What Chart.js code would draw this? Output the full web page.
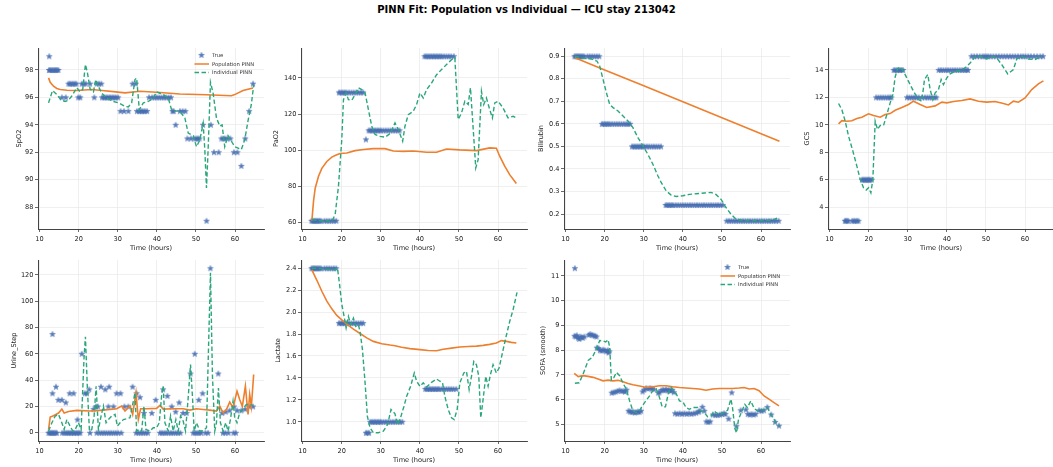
<!DOCTYPE html>
<html><head><meta charset="utf-8">
<script src="https://cdn.jsdelivr.net/npm/chart.js@4.4.1/dist/chart.umd.min.js"></script>
<style>
html,body{margin:0;padding:0;background:#fff;width:1053px;height:467px;overflow:hidden;position:relative;font-family:"DejaVu Sans",sans-serif;}
#title{position:absolute;left:0;width:1053px;top:4px;text-align:center;font-weight:bold;font-size:10px;line-height:12px;color:#000;white-space:nowrap;}
canvas{position:absolute;}
</style></head><body>
<div id="title">PINN Fit: Population vs Individual — ICU stay 213042</div>
<script>
// ---------------- DATA ----------------
const xTicks = [10, 20, 30, 40, 50, 60];

// SpO2
const spo2TrueT = [12.47,12.4,12.7,13.0,13.3,13.6,13.9,14.2,14.5,14.8, 15.7,16.7, 17.4,17.8,18.2,18.6,19.0,19.4, 19.9,20.4, 20.8,21.3,21.8, 22.9, 24.0, 24.6,25.2,25.8, 26.0,26.4,26.8,27.2,27.6,28.0,28.4,28.8,29.2,29.6,30.1, 30.7,31.6,32.7, 33.8,34.6, 34.9,35.4,35.8,36.2,36.6,37.0,37.5, 38.0,38.8,39.4,40.0,40.6,41.2,41.8,42.4,43.0,43.6, 44.0,44.3, 44.8, 45.9,46.6,47.3, 47.8,48.7,49.6,50.1,50.5,50.9, 51.8, 52.7, 53.8, 54.6,55.8, 56.5,57.0,57.4,58.0,58.8, 59.7,60.6, 61.6, 62.6, 63.6, 64.6];
const spo2TrueV = [99,98,98,98,98,98,98,98,98,98, 96,96, 97,97,97,97,97,97, 96,96, 97,97,97, 97, 96, 97,97,97, 96,96,96,96,96,96,96,96,96,96,96, 95,95,95, 97,97, 95,95,95,95,95,95,95, 96,96,96,96,96,96,96,96,96,96, 95,95, 94, 95,95,95, 93,93,93,93,93,93, 94, 87, 94, 92,92, 93,93,93,93,93, 92,92, 91, 93, 95, 97];
const spo2PopT = [12.3,12.72,13.57,14.42,15.27,17.0,19.52,23.35,26.0,28.88,31.85,35.68,39.93,45.88,52.69,59.06,59.91,62.04,64.59];
const spo2PopV = [97.42,97.1,96.81,96.65,96.57,96.52,96.5,96.57,96.5,96.42,96.33,96.45,96.37,96.24,96.19,96.12,96.2,96.5,96.69];
const spo2IndT = [12.30,13.32,14.42,15.53,16.55,17.40,18.25,19.52,20.37,21.05,21.73,22.24,22.93,23.78,24.37,25.05,25.90,27.18,28.88,30.15,31.85,32.70,33.55,34.40,34.83,35.51,36.53,37.81,39.08,39.93,40.78,41.63,42.91,43.76,44.61,45.88,47.16,48.01,49.29,50.14,50.99,51.84,52.26,52.69,53.11,53.71,54.39,55.24,56.09,56.68,57.36,58.21,59.06,59.91,60.76,61.61,62.47,63.32,64.17,64.76];
const spo2IndV = [95.6,96.5,96.2,95.8,95.7,95.8,96.1,96.7,96.4,96.6,98.4,97.8,96.6,96.4,97.3,96.8,96.3,95.95,95.7,95.6,95.35,95.3,95.6,97.3,97.4,95.1,95.6,95.7,95.95,96.4,96.3,96.2,95.95,95.1,95.0,95.0,94.5,93.4,93.2,92.4,92.9,94.1,92.2,89.4,92.2,97.1,96.3,94.5,93.9,94.0,92.4,93.2,92.8,92.4,92.3,92.2,92.9,94.3,95.5,96.9];

// PaO2
const pao2TrueT = [12.3,12.6,12.9,13.2,13.5,13.8,14.1,14.4,14.8,15.6,16.2,16.8,17.4,18.0,18.6, 19.3,19.7,20.1,20.5,20.9,21.3,21.9,22.5,23.1,23.7,24.3,24.9,25.5, 26.2, 26.9,27.3,27.7,28.1,28.5,28.9,29.3,29.7,30.1,30.7,31.3,31.9,32.5,33.1,33.7,34.3,34.8, 41.2,41.6,42.0,42.4,42.8,43.2,43.6,44.0,44.4,44.8,45.2,45.6,46.2,46.8,47.4,48.0,48.7];
const pao2TrueV = [61,61,61,61,61,61,61,61,61,61,61,61,61,61,61, 132,132,132,132,132,132,132,132,132,132,132,132,132, 106, 111,111,111,111,111,111,111,111,111,111,111,111,111,111,111,111,111, 152,152,152,152,152,152,152,152,152,152,152,152,152,152,152,152,152];
const pao2PopT = [12.38,12.81,13.23,14.08,14.93,16.21,17.48,18.6,19.61,21.31,23.44,25.56,28.11,31.09,33.21,35.77,38.32,41.72,44.27,46.82,50.22,54.47,57.87,59.57,60.42,61.70,62.97,64.68];
const pao2PopV = [61,72,79,85.6,90,93.8,96.2,97.4,98.2,98.5,99.8,100.4,100.9,100.9,99.6,99.4,99.6,98.9,98.9,100.7,100.2,99.8,101.3,101.1,96.7,91.2,86.5,81.6];
const pao2IndT = [12.38,14.08,16.21,17.48,18.33,19.18,20.03,20.46,21.14,21.73,22.59,23.44,24.29,25.14,25.99,26.84,27.69,28.54,29.81,31.09,32.36,33.64,34.49,35.60,36.19,37.04,38.32,39.17,40.02,40.87,41.72,42.99,44.27,45.54,46.82,48.10,48.95,49.80,50.65,51.50,52.35,52.94,53.62,54.30,54.90,55.75,56.34,57.02,57.87,58.55,59.15,60.00,61.28,62.55,63.83,64.68];
const pao2IndV = [61.7,61,61,60.7,64.4,80,105.9,128,131.7,128,127.6,130.8,134.5,133.5,131.7,122.5,113.3,108.7,107.7,107.2,109.2,115.1,111.4,105,113.3,119.7,121.6,125.3,131.7,128.9,133.5,137.2,141.8,144.6,147.4,150.1,151.1,117,120.6,127.1,125.3,134.5,112.4,90.2,94.8,132.6,125.3,128.9,122.5,117.9,126.2,127.1,123.4,117.9,118.8,117.9];

// Bilirubin
const biliTrueT = [12.3,12.6,12.9,13.2,13.5,13.8,14.1,14.4,14.8,15.6,16.2,16.8,17.4,18.0,18.6, 19.3,19.7,20.1,20.5,20.9,21.3,21.9,22.5,23.1,23.7,24.3,24.9,25.5,26.0,26.5, 27.0,27.4,27.8,28.2,28.6,29.0,29.4,29.8,30.2,30.8,31.4,32.0,32.6,33.2,33.8,34.4, 35.6,36.0,36.4,36.8,37.2,37.6,38.2,38.8,39.4,40.0,40.6,41.2,41.8,42.4,43.0,43.6,44.2,44.8,45.4,46.0,46.6,47.2,47.8,48.4,49.0,49.6,50.2, 51.2,51.8,52.4,53.0,53.6,54.2,54.8,55.4,56.0,56.6,57.2,57.8,58.4,59.0,59.6,60.2,60.8,61.4,62.0,62.6,63.2,63.8,64.5];
const biliTrueV = [0.9,0.9,0.9,0.9,0.9,0.9,0.9,0.9,0.9,0.9,0.9,0.9,0.9,0.9,0.9, 0.6,0.6,0.6,0.6,0.6,0.6,0.6,0.6,0.6,0.6,0.6,0.6,0.6,0.6,0.6, 0.5,0.5,0.5,0.5,0.5,0.5,0.5,0.5,0.5,0.5,0.5,0.5,0.5,0.5,0.5,0.5, 0.24,0.24,0.24,0.24,0.24,0.24,0.24,0.24,0.24,0.24,0.24,0.24,0.24,0.24,0.24,0.24,0.24,0.24,0.24,0.24,0.24,0.24,0.24,0.24,0.24,0.24,0.24, 0.17,0.17,0.17,0.17,0.17,0.17,0.17,0.17,0.17,0.17,0.17,0.17,0.17,0.17,0.17,0.17,0.17,0.17,0.17,0.17,0.17,0.17,0.17];
const biliPopT = [12.4,20,30,40,50,60,64.7];
const biliPopV = [0.893,0.839,0.769,0.698,0.627,0.556,0.523];
const biliIndT = [12.38,14.07,16.62,18.06,18.74,19.59,20.44,21.29,22.14,23.41,24.69,25.96,27.23,28.51,29.78,31.05,32.33,33.60,34.45,35.72,36.99,38.27,39.97,41.66,43.36,45.48,47.18,48.45,49.73,51.00,52.27,53.55,55.25,57.79,60.34,62.89,64.58];
const biliIndV = [0.9,0.893,0.888,0.878,0.856,0.797,0.738,0.686,0.672,0.657,0.635,0.613,0.583,0.539,0.502,0.465,0.421,0.37,0.34,0.303,0.284,0.278,0.281,0.287,0.29,0.293,0.296,0.287,0.266,0.23,0.2,0.178,0.171,0.171,0.171,0.173,0.185];

// GCS
const gcsTrueT = [13.9,14.2,14.5,14.8,15.8,16.2,16.6,17.0,17.4, 18.3,18.6,18.9,19.2,19.5,19.8,20.1,20.4,20.8, 21.9,22.5,23.1,23.7,24.3,24.9,25.4,25.8, 26.4,26.8,27.2,27.6,28.0,28.4,28.8, 29.8,30.4,31.0,31.6,32.2,32.8,33.6,34.4,35.0,35.6,36.2,36.8,37.3, 37.9,38.5,39.1,39.7,40.3,40.9,41.5,42.1,42.7,43.3,43.9,44.5,45.0,45.4, 46.3,47.0,47.7,48.4,49.1,49.6,50.1,50.6,51.2,51.9,52.6,53.3,54.0,54.7,55.4,56.1,56.8,57.5,58.2,58.9,59.5,60.1,60.8,61.5,62.3,63.1,63.9,64.6];
const gcsTrueV = [3,3,3,3,3,3,3,3,3, 6,6,6,6,6,6,6,6,6, 12,12,12,12,12,12,12,12, 14,14,14,14,14,14,14, 12,12,12,12,12,12,12,12,12,12,12,12,12, 14,14,14,14,14,14,14,14,14,14,14,14,14,14, 15,15,15,15,15,15,15,15,15,15,15,15,15,15,15,15,15,15,15,15,15,15,15,15,15,15,15,15];
const gcsPopT = [12.30,13.15,14.43,15.71,16.98,18.26,19.97,21.24,22.95,24.22,25.50,26.78,28.48,30.19,31.46,33.17,34.87,37.00,38.71,39.98,41.69,43.82,45.95,48.07,50.20,52.33,54.46,55.74,57.02,58.30,60.00,61.70,63.41,64.69];
const gcsPopV = [10.07,10.3,10.26,10.3,10.46,10.55,10.8,10.67,10.55,10.75,10.82,11.06,11.26,11.48,11.72,11.48,11.26,11.38,11.65,11.6,11.7,11.77,11.89,11.72,11.65,11.7,11.55,11.45,11.72,11.65,11.96,12.57,12.98,13.2];
const gcsIndT = [12.30,13.15,14.00,14.86,15.96,16.98,17.84,18.69,19.37,19.97,20.56,21.07,21.67,22.27,22.95,23.80,24.65,25.50,26.18,26.78,27.38,28.06,28.91,30.19,31.46,32.74,33.59,34.28,35.13,35.72,36.41,37.00,37.85,38.54,39.13,39.98,40.84,42.11,43.39,44.67,45.95,47.22,48.50,50.20,51.48,52.75,54.04,55.57,57.02,57.87,59.15,60.85,62.56,64.26];
const gcsIndV = [11.55,11.1,10.26,9.17,8.08,6.99,6.01,5.41,5.24,5.41,5.04,6.01,10.26,9.66,9.95,9.95,10.75,11.6,12.2,13.49,14.07,14.22,13.9,13.17,12.45,11.84,11.72,13.3,13.66,12.57,11.84,12.33,12.57,13.3,12.93,13.42,13.71,13.9,13.98,14.15,14.51,14.95,15,14.8,15,14.87,14.39,13.71,14.02,14.8,15,14.8,14.75,15];

// Urine_Step
const urineTrueT = [12.3,12.6,12.9,13.2,13.5,13.8,14.1,14.4, 15.8,16.3,16.8,17.2,17.6,18.0,18.4,18.8,19.2,19.6,20.0,20.4, 22.9,24.6,25.3,25.9,26.5,27.1,27.7,28.3,28.9,29.5,30.1,30.9, 34.7,35.3,35.9,36.5,37.1,37.7, 40.8,41.3,41.9,42.4,43.0,43.6,44.2,44.8,45.4,46.0, 49.3,49.8,50.3,50.8,51.3,52.4,53.1, 56.9,57.5,58.3,59.6,60.2,
  13.3,13.3,14.2,14.8,15.7,16.7,17.7,18.7,19.7,20.8,21.6,22.1,22.7,23.8,24.4,24.9,25.7,26.8,27.8,27.6,28.9,29.7,30.7,31.7,32.7,33.8,34.8,35.7,36.7,38.7,39.7,41.6,42.7,43.8,44.8,45.7,46.7,47.6,48.6,49.7,50.7,51.7,53.7,55.7,56.7,57.6,58.6,59.7,60.5,61.6,62.6,63.6,64.6];
const urineTrueV = [0,0,0,0,0,0,0,0, 0,0,0,0,0,0,0,0,0,0,0,0, 0,0,0,0,0,0,0,0,0,0,0,0, 0,0,0,0,0,0, 0,0,0,0,0,0,0,0,0,0, 0,0,0,0,0,0,0, 0,0,0,0,0,
  75,30,35,25,25,23,30,30,10,60,30,30,33,18,20,20,35,33,35,20,20,30,30,20,20,35,30,27,15,15,25,33,28,20,16,23,15,15,45,60,25,30,125,45,15,16,17,20,17,17,18,20,20];
const urinePopT = [12.30,12.72,13.57,14.85,15.70,16.29,17.40,19.52,22.93,25.48,28.03,29.73,31.00,31.85,33.13,33.81,34.66,35.26,35.85,37.38,39.93,40.78,41.63,44.18,46.73,48.44,50.14,51.84,53.54,55.24,56.09,56.94,57.79,58.63,59.48,60.50,61.18,61.86,62.64,63.32,63.74,64.17,64.76];
const urinePopV = [2.5,12,13,15,18,15,16.2,17,16.5,17,17.7,18.2,20.3,16.5,20.3,13.9,30.4,10.1,18.2,18.2,18.5,20.8,18,18.2,18.2,17.2,18.2,17.7,17.2,16.5,20.3,15.2,17.7,23.3,19,31.6,25.3,20,35.4,13.9,29.1,20,44.3];
const urineIndT = [12.30,13.15,14.00,14.85,15.70,16.29,16.97,17.82,18.50,19.10,19.95,20.63,21.39,21.73,22.24,22.76,23.35,23.95,24.46,25.05,25.73,26.33,27.01,27.60,28.45,29.30,29.90,30.58,31.43,32.28,33.13,33.81,34.40,34.83,35.51,36.11,36.70,37.21,38.23,39.08,39.93,40.61,41.21,41.63,42.06,42.91,43.50,44.18,44.86,45.46,46.05,46.73,47.33,48.01,48.61,49.12,49.54,50.14,50.99,51.84,52.69,53.20,53.71,54.22,54.81,55.24,55.75,56.26,56.94,57.62,58.21,58.81,59.48,59.91,60.50,61.18,61.86,62.89,63.74,64.59];
const urineIndV = [1.3,7.6,12.7,14,7.6,2.5,10,5,1.3,2.5,7.6,2.5,58,73,33,1.3,2.5,12.7,35.4,2.5,12.7,20.3,7.6,10,12.7,14,5,7.6,10,10.6,11.4,21.5,30.4,1.3,2.5,1.3,20.3,2.5,1.3,3.8,3.8,7.6,27.8,35.4,7.6,1.3,12.7,1.3,10,1.3,12.7,8.9,1.3,26.6,51.9,26.6,1.3,7.6,1.3,1.3,3.8,63.3,121.5,43,1.3,7.6,34,7.6,1.3,7.6,1.3,10,24,11.4,7.6,15.2,17.7,21.5,21.5,20.8];

// Lactate
const lacTrueT = [12.3,12.6,12.9,13.2,13.5,13.8,14.1,14.4,14.8,15.6,16.2,16.8,17.4,18.0,18.6, 19.3,19.7,20.1,20.5,20.9,21.3,21.9,22.5,23.1,23.7,24.3,24.9,25.5, 26.2,26.6,27.0, 27.3,27.7,28.1,28.5,28.9,29.3,29.7,30.1,30.7,31.3,31.9,32.5,33.1,33.7,34.3,34.9,35.5, 41.4,41.8,42.2,42.6,43.0,43.4,43.8,44.2,44.6,45.0,45.6,46.2,46.8,47.4,48.0,48.6,49.3];
const lacTrueV = [2.4,2.4,2.4,2.4,2.4,2.4,2.4,2.4,2.4,2.4,2.4,2.4,2.4,2.4,2.4, 1.9,1.9,1.9,1.9,1.9,1.9,1.9,1.9,1.9,1.9,1.9,1.9,1.9, 0.9,0.9,0.9, 1.0,1.0,1.0,1.0,1.0,1.0,1.0,1.0,1.0,1.0,1.0,1.0,1.0,1.0,1.0,1.0,1.0, 1.3,1.3,1.3,1.3,1.3,1.3,1.3,1.3,1.3,1.3,1.3,1.3,1.3,1.3,1.3,1.3,1.3];
const lacPopT = [12.38,13.66,14.93,16.21,17.48,18.76,20.03,21.31,23.01,24.71,26.41,28.11,30.24,32.36,33.64,35.34,37.47,40.02,42.14,44.27,45.97,48.10,50.22,52.35,54.47,56.17,57.87,59.57,60.85,62.13,63.40,64.68];
const lacPopV = [2.385,2.29,2.19,2.1,2.03,1.97,1.93,1.89,1.845,1.805,1.765,1.733,1.712,1.70,1.694,1.68,1.667,1.658,1.65,1.648,1.662,1.672,1.682,1.686,1.69,1.697,1.706,1.718,1.74,1.733,1.724,1.718];
const lacIndT = [12.38,14.08,16.21,18.33,18.93,19.44,20.03,20.63,21.14,21.73,22.33,23.01,23.61,24.29,24.71,25.31,25.99,26.58,27.26,28.11,29.39,30.66,31.77,32.62,33.64,34.23,34.91,35.94,36.62,37.64,38.57,39.17,40.02,40.87,41.72,42.99,44.27,45.12,45.80,46.39,47.24,48.10,48.78,49.54,50.22,51.24,51.92,52.60,53.20,53.79,54.47,55.07,55.58,56.17,56.85,57.45,58.04,58.72,59.57,60.25,61.11,61.96,62.98,63.83,64.85];
const lacIndV = [2.4,2.4,2.39,2.385,2.4,2.26,2.07,1.96,1.855,1.96,1.885,1.945,1.87,1.885,1.82,1.66,1.355,1.05,0.945,0.9,0.9,0.915,0.976,1.112,1.073,0.976,1.02,1.142,1.233,1.324,1.445,1.37,1.324,1.355,1.318,1.36,1.39,1.37,1.355,1.233,1.112,1.036,1.02,1.112,1.355,1.445,1.46,1.294,1.415,1.55,1.52,1.415,1.036,1.203,1.415,1.324,1.43,1.52,1.445,1.49,1.627,1.764,1.915,2.02,2.18];

// SOFA (smooth)
const sofaTrueT = [12.38, 12.3,12.6,12.9,13.2,13.5,13.8,14.1,14.4,14.8, 15.9,16.3,16.7,17.1,17.5,17.9, 18.0,18.4, 18.8,19.2,19.6,20.0,20.4,20.8,21.0,21.2, 21.8,22.3,22.8,23.3,23.8,24.3,24.8,25.2,25.6, 26.1,26.5,26.9,27.3,27.7,28.1,28.5,28.9,29.3, 29.7,30.1, 30.6,31.1,31.6,32.1,32.6, 33.7,34.0, 34.5,34.9,35.3,35.7,36.1,36.5,36.9,37.3, 37.7, 38.0,38.6,39.2,39.8,40.4,41.0,41.6,42.2,42.8,43.4,44.0, 44.2,45.0,45.5, 46.0,46.5,47.0, 47.7,48.3,48.9,49.5,50.0,50.5,50.9, 51.7, 52.5, 53.7, 54.8,56.1, 56.6,57.1,57.6,58.1,58.6, 59.5,60.1,60.7, 61.6,62.6,63.6,64.6];
const sofaTrueV = [11.31, 8.58,8.55,8.6,8.5,8.45,8.55,8.52,8.5,8.55, 8.62,8.65,8.62,8.6,8.58,8.55, 8.1,8.08, 8.0,7.98,8.02,8.0,7.95,8.0,7.9,7.95, 6.28,6.3,6.32,6.35,6.38,6.35,6.35,6.32,6.4, 5.55,5.52,5.5,5.52,5.48,5.5,5.52,5.5,5.55, 6.33,6.4, 6.47,6.45,6.47,6.45,6.42, 6.28,6.3, 6.38,6.4,6.38,6.42,6.38,6.4,6.35,6.4, 6.3, 5.45,5.43,5.45,5.43,5.45,5.43,5.45,5.43,5.45,5.47,5.5, 5.55,5.71,5.55, 5.12,5.1,5.12, 5.4,5.38,5.38,5.4,5.42,5.45,5.42, 5.23, 6.29, 4.93, 5.57,5.6, 5.42,5.4,5.42,5.4,5.42, 5.57,5.55,5.57, 5.7,5.4,5.1,4.95];
const sofaPopT = [12.21,13.23,14.50,15.77,17.05,18.32,19.59,20.87,22.14,23.41,24.69,25.96,27.23,28.93,30.63,32.33,34.02,35.72,37.42,39.12,40.81,42.51,44.21,45.91,47.61,49.30,51.00,52.70,54.40,55.67,56.95,58.22,59.49,60.76,62.03,63.31,64.58];
const sofaPopV = [7.06,6.93,6.97,6.94,6.9,6.83,6.76,6.79,6.76,6.78,6.72,6.65,6.6,6.55,6.49,6.52,6.56,6.56,6.52,6.49,6.47,6.45,6.43,6.38,6.43,6.45,6.45,6.45,6.47,6.49,6.43,6.45,6.36,6.15,6.02,5.88,5.75];
const sofaIndT = [12.38,13.48,14.50,15.77,16.88,17.89,18.74,19.59,20.27,20.87,21.29,21.71,22.39,22.99,23.84,24.69,25.53,26.38,27.23,28.08,28.93,30.20,31.48,32.33,33.17,34.02,34.70,35.55,36.32,36.99,37.59,38.27,39.12,39.97,40.81,41.66,42.51,43.79,44.63,45.48,46.33,47.18,48.03,49.30,50.58,51.43,52.28,52.70,53.29,53.72,54.23,55.08,55.84,56.52,57.37,58.22,59.07,59.92,60.76,61.61,62.46,63.31,64.16,64.58];
const sofaIndV = [6.66,6.68,7.04,7.58,7.72,8.05,8.39,8.37,8.33,8.42,8.12,6.79,6.9,7.1,6.97,6.66,6.43,5.95,5.54,5.48,5.57,5.88,6.15,6.38,6.43,6.09,5.71,5.71,6.29,6.49,6.36,6.25,5.95,5.92,5.68,5.61,5.68,5.68,5.54,5.48,5.31,5.34,5.54,5.38,5.48,5.57,6.02,5.68,4.84,4.66,5.2,5.54,5.81,5.68,5.95,5.65,5.54,5.61,5.57,5.68,5.41,5.2,5.0,4.93];

// y-axis tick values and labels
const spo2Ticks = [88,90,92,94,96,98];           const spo2Labels = ['88','90','92','94','96','98'];
const pao2Ticks = [60,80,100,120,140];           const pao2Labels = ['60','80','100','120','140'];
const biliTicks = [0.2,0.3,0.4,0.5,0.6,0.7,0.8,0.9]; const biliLabels = ['0.2','0.3','0.4','0.5','0.6','0.7','0.8','0.9'];
const gcsTicks = [4,6,8,10,12,14];               const gcsLabels = ['4','6','8','10','12','14'];
const urineTicks = [0,20,40,60,80,100,120];      const urineLabels = ['0','20','40','60','80','100','120'];
const lacTicks = [1.0,1.2,1.4,1.6,1.8,2.0,2.2,2.4]; const lacLabels = ['1.0','1.2','1.4','1.6','1.8','2.0','2.2','2.4'];
const sofaTicks = [5,6,7,8,9,10,11];             const sofaLabels = ['5','6','7','8','9','10','11'];
const legendLabels = ['True','Population PINN','Individual PINN'];

// ---------------- STYLE / LAYOUT ----------------
const FONT = 'DejaVu Sans';
const BLUE = 'rgba(70,110,178,0.92)', ORANGE = '#EE7F2D', GREEN = '#2AA77A';
const TXT = '#222', AX = '#444', GRID = '#ebebeb';
const YW = 36, PT = 8, PR = 8, XH = 28, PW = 226, PH = 181;
const COL_L = [38, 301, 564, 828];
const ROW_T = [48, 260];
const FS = 6.6, LH = FS * 1.2;

function makeStar() {
  const c = document.createElement('canvas'); c.width = 8; c.height = 8;
  const g = c.getContext('2d'); g.beginPath();
  for (let i = 0; i < 10; i++) {
    const r = i % 2 ? 1.3 : 3.1, a = -Math.PI / 2 + i * Math.PI / 5;
    const x = 4 + r * Math.cos(a), y = 4.3 + r * Math.sin(a);
    i ? g.lineTo(x, y) : g.moveTo(x, y);
  }
  g.closePath(); g.fillStyle = BLUE; g.fill();
  g.lineWidth = 0.4; g.strokeStyle = BLUE; g.stroke();
  return c;
}
const STAR = makeStar();

const legendPlugin = {
  id: 'inlegend',
  afterDraw(chart) {
    const ctx = chart.ctx, a = chart.chartArea;
    const rows = [7.3, 16, 24.4];
    ctx.save();
    ctx.font = '5.3px "' + FONT + '"'; ctx.fillStyle = '#333'; ctx.textBaseline = 'middle'; ctx.textAlign = 'left';
    ctx.drawImage(STAR, a.left + 163.5 - 4, a.top + rows[0] - 4.3);
    ctx.lineWidth = 1.5;
    ctx.strokeStyle = ORANGE; ctx.beginPath(); ctx.moveTo(a.left + 156.5, a.top + rows[1]); ctx.lineTo(a.left + 171, a.top + rows[1]); ctx.stroke();
    ctx.strokeStyle = GREEN; ctx.setLineDash([4.5, 2.5]); ctx.beginPath(); ctx.moveTo(a.left + 156.5, a.top + rows[2]); ctx.lineTo(a.left + 171, a.top + rows[2]); ctx.stroke();
    ctx.setLineDash([]);
    legendLabels.forEach((t, i) => ctx.fillText(t, a.left + 174, a.top + rows[i] + 0.3));
    ctx.restore();
  }
};

function panel(p) {
  const L = COL_L[p.col], T = ROW_T[p.row];
  const cw = YW + PW + PR, ch = PT + PH + XH;
  const cv = document.createElement('canvas');
  cv.width = cw; cv.height = ch;
  cv.style.left = (L - YW) + 'px'; cv.style.top = (T - PT) + 'px';
  cv.style.width = cw + 'px'; cv.style.height = ch + 'px';
  document.body.appendChild(cv);
  const pts = (xs, ys) => xs.map((x, i) => ({ x: x, y: ys[i] }));
  const font = { family: FONT, size: FS };
  new Chart(cv, {
    type: 'scatter',
    data: { datasets: [
      { data: pts(p.indT, p.indV), showLine: true, borderColor: GREEN, borderWidth: 1.4, borderDash: [4.5, 2.5], pointRadius: 0, order: 0 },
      { data: pts(p.popT, p.popV), showLine: true, borderColor: ORANGE, borderWidth: 1.6, pointRadius: 0, order: 1 },
      { data: pts(p.trueT, p.trueV), showLine: false, pointStyle: STAR, pointRadius: 3, order: 2 }
    ] },
    options: {
      responsive: false, animation: false, events: [], devicePixelRatio: 1,
      layout: { padding: { left: 0, top: PT, right: PR, bottom: 0 } },
      plugins: { legend: { display: false }, tooltip: { enabled: false } },
      scales: {
        x: {
          type: 'linear', position: 'bottom', min: 9.6, max: 67.4,
          afterBuildTicks: s => { s.ticks = xTicks.map(v => ({ value: v })); },
          afterFit: s => { s.height = XH; },
          grid: { color: GRID, lineWidth: 0.8, drawTicks: true, tickLength: 3, tickColor: AX, tickWidth: 0.8 },
          border: { display: true, color: AX, width: 1 },
          ticks: { font: font, color: TXT, padding: 3, autoSkip: false, maxRotation: 0, callback: (v, i) => String(xTicks[i]) },
          title: { display: true, text: 'Time (hours)', font: font, color: TXT, padding: { top: 0, bottom: 4.5 } }
        },
        y: {
          type: 'linear', position: 'left', min: p.yMin, max: p.yMax,
          afterBuildTicks: s => { s.ticks = p.yTicks.map(v => ({ value: v })); },
          afterFit: s => { s.width = YW; },
          grid: { color: GRID, lineWidth: 0.8, drawTicks: true, tickLength: 3, tickColor: AX, tickWidth: 0.8 },
          border: { display: true, color: AX, width: 1 },
          ticks: { font: font, color: TXT, padding: 1.5, autoSkip: false, callback: (v, i) => p.yLabels[i] },
          title: { display: true, text: p.yTitle, font: font, color: TXT, padding: { top: YW - p.gap - LH / 2, bottom: 0 } }
        }
      }
    },
    plugins: p.legend ? [legendPlugin] : []
  });
}

panel({ col: 0, row: 0, yTitle: 'SpO2', gap: 19, yMin: 86.4, yMax: 99.6, yTicks: spo2Ticks, yLabels: spo2Labels,
  trueT: spo2TrueT, trueV: spo2TrueV, popT: spo2PopT, popV: spo2PopV, indT: spo2IndT, indV: spo2IndV, legend: true });
panel({ col: 1, row: 0, yTitle: 'PaO2', gap: 25, yMin: 56.45, yMax: 156.55, yTicks: pao2Ticks, yLabels: pao2Labels,
  trueT: pao2TrueT, trueV: pao2TrueV, popT: pao2PopT, popV: pao2PopV, indT: pao2IndT, indV: pao2IndV });
panel({ col: 2, row: 0, yTitle: 'Bilirubin', gap: 23, yMin: 0.1335, yMax: 0.9365, yTicks: biliTicks, yLabels: biliLabels,
  trueT: biliTrueT, trueV: biliTrueV, popT: biliPopT, popV: biliPopV, indT: biliIndT, indV: biliIndV });
panel({ col: 3, row: 0, yTitle: 'GCS', gap: 21, yMin: 2.4, yMax: 15.6, yTicks: gcsTicks, yLabels: gcsLabels,
  trueT: gcsTrueT, trueV: gcsTrueV, popT: gcsPopT, popV: gcsPopV, indT: gcsIndT, indV: gcsIndV });
panel({ col: 0, row: 1, yTitle: 'Urine_Step', gap: 24, yMin: -6.25, yMax: 131.25, yTicks: urineTicks, yLabels: urineLabels,
  trueT: urineTrueT, trueV: urineTrueV, popT: urinePopT, popV: urinePopV, indT: urineIndT, indV: urineIndV });
panel({ col: 1, row: 1, yTitle: 'Lactate', gap: 22.5, yMin: 0.825, yMax: 2.475, yTicks: lacTicks, yLabels: lacLabels,
  trueT: lacTrueT, trueV: lacTrueV, popT: lacPopT, popV: lacPopV, indT: lacIndT, indV: lacIndV });
panel({ col: 2, row: 1, yTitle: 'SOFA (smooth)', gap: 21, yMin: 4.33, yMax: 11.64, yTicks: sofaTicks, yLabels: sofaLabels,
  trueT: sofaTrueT, trueV: sofaTrueV, popT: sofaPopT, popV: sofaPopV, indT: sofaIndT, indV: sofaIndV, legend: true });
</script>
</body></html>
